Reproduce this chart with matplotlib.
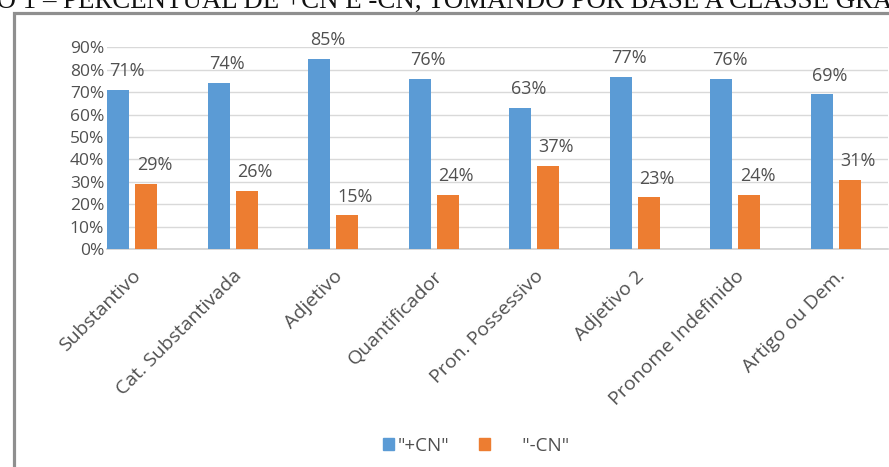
import numpy as np
import matplotlib.pyplot as plt
from matplotlib.patches import Patch, Rectangle

categorias = ['Substantivo', 'Cat. Substantivada', 'Adjetivo', 'Quantificador',
              'Pron. Possessivo', 'Adjetivo 2', 'Pronome Indefinido', 'Artigo ou Dem.']
mais_cn = [71, 74, 85, 76, 63, 77, 76, 69]
menos_cn = [29, 26, 15, 24, 37, 23, 24, 31]
yticks = [0, 10, 20, 30, 40, 50, 60, 70, 80, 90]

AZUL = '#5b9bd5'
LARANJA = '#ed7d31'
TEXTO = '#505050'

W, H = 889, 467
fig = plt.figure(figsize=(W / 100, H / 100), dpi=100)

# moldura cinza do gráfico (só as bordas de cima e da esquerda aparecem)
fig.patches.append(Rectangle((13.5 / W, -0.2), 2.0, (H - 12.5) / H + 0.2,
                             transform=fig.transFigure, fill=False,
                             edgecolor='#8f8f8f', linewidth=2.3))

# título do gráfico, cortado no topo da página
fig.text(57 / W, 1 - 7.5 / H, 'GRÁFICO 1 –', ha='right', va='baseline',
         family='Liberation Serif', fontsize=19.4, color='#111111')
fig.text(63 / W, 1 - 7.5 / H,
         'PERCENTUAL DE +CN E -CN, TOMANDO POR BASE A CLASSE GRAMATICAL',
         ha='left', va='baseline', family='Liberation Serif', fontsize=19.4,
         color='#111111')

ax = fig.add_axes([107 / W, 1 - 249 / H, (888 - 107) / W, (249 - 47.4) / H])

x = np.arange(len(categorias))
larg = 0.219
desl = 0.139
b1 = ax.bar(x - desl, mais_cn, larg, color=AZUL, zorder=3)
b2 = ax.bar(x + desl, menos_cn, larg, color=LARANJA, zorder=3)

for barras, valores in ((b1, mais_cn), (b2, menos_cn)):
    for b, v in zip(barras, valores):
        ax.annotate(f'{v}%', (b.get_x() + b.get_width() / 2, v),
                    xytext=(6, 13.5), textcoords='offset points',
                    ha='center', va='center', fontsize=13, color=TEXTO,
                    family='Open Sans', annotation_clip=False)

ax.set_xlim(-0.249, 7.52)
ax.set_ylim(0, 90)
ax.set_yticks(yticks)
ax.set_yticklabels([f'{t}%' for t in yticks], family='Open Sans',
                   fontsize=12.5, color=TEXTO)
ax.set_xticks(x)
ax.set_xticklabels(categorias, rotation=45, ha='right', va='top',
                   rotation_mode='anchor', family='Open Sans',
                   fontsize=14, color=TEXTO)
ax.tick_params(length=0, pad=2)
ax.tick_params(axis='x', pad=13)
ax.grid(axis='y', color='#d9d9d9', linewidth=1, zorder=0)
for lado in ['top', 'right', 'left']:
    ax.spines[lado].set_visible(False)
ax.spines['bottom'].set_color('#d0d0d0')
ax.spines['bottom'].set_linewidth(1.2)

handles = [Patch(color=AZUL), Patch(color=LARANJA)]
leg = fig.legend(handles, ['"+CN"', '      "-CN"'], ncol=2, frameon=False,
                 loc='center', bbox_to_anchor=(476 / W, 1 - 446 / H),
                 handlelength=0.6, handleheight=0.6, handletextpad=0.15,
                 columnspacing=1.6, prop={'family': 'Open Sans', 'size': 13.5})
for t in leg.get_texts():
    t.set_color(TEXTO)

fig.savefig('out.png', dpi=100)
